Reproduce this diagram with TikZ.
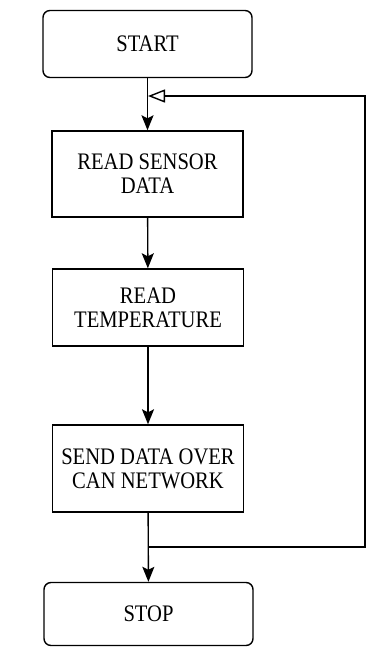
\documentclass[tikz,border=0pt]{standalone}
\usepackage{fontspec}
\setmainfont{Liberation Serif}
\usetikzlibrary{arrows.meta}
% labels: stretched a little vertically and centred on their capitals
\newcommand\boxlabel[1]{\raisebox{-3pt}[\height][\depth]{\scalebox{1}[1.15]{\begin{tabular}{@{}c@{}}#1\end{tabular}}}}
\begin{document}
\begin{tikzpicture}[x=1pt,y=-1pt,
  font=\fontsize{20.6}{21}\selectfont,
  base/.style={draw=black, line width=1.4pt, fill=white, align=center, inner sep=2pt},
  term/.style={base, rounded corners=7pt, minimum width=209pt, minimum height=67pt},
  proc/.style={base, minimum width=191pt},
  flow/.style={line width=1.4pt, -{Stealth[length=15pt,width=12pt,inset=3pt]}},
  back/.style={line width=1.4pt, -{Triangle[open,length=17pt,width=13pt,line width=1.4pt]}}]
  \useasboundingbox (0,0) rectangle (366,648);

  % process chain
  \node[term] (start) at (147.5,44) {\boxlabel{START}};
  \node[proc, minimum height=86pt] (sensor) at (147.5,174) {\boxlabel{READ SENSOR\\DATA}};
  \node[proc, minimum height=77pt] (temp) at (148,307.5) {\boxlabel{READ\\TEMPERATURE}};
  \node[proc, minimum height=87pt] (send) at (148,468.5) {\boxlabel{SEND DATA OVER\\CAN NETWORK}};
  \node[term, minimum height=63pt] (stop) at (148.5,614) {\boxlabel{STOP}};

  % junction points of the return loop
  \coordinate (split) at (148,547);
  \coordinate (rlow) at (365,547);
  \coordinate (rhigh) at (365,96);
  \coordinate (merge) at (148,96);

  \draw[flow] (start) -- (sensor);
  \draw[flow] (sensor) -- (temp);
  \draw[flow] (temp) -- (send);
  \draw[flow] (send) -- (stop);
  \draw[back] (split) -- (rlow) -- (rhigh) -- (merge);
\end{tikzpicture}
\end{document}
